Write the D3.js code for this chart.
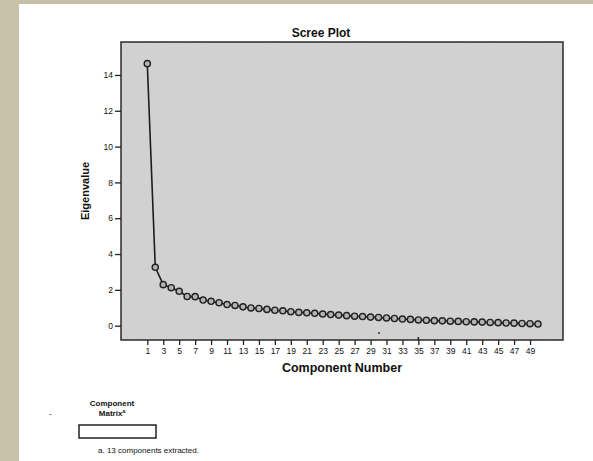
<html>
<head>
<style>
  body { margin: 0; background: #fff; }
  text { font-family: "Liberation Sans", Arial, sans-serif; fill: #111; }
</style>
</head>
<body>
<svg id="container" width="593" height="461"></svg>
<script src="https://cdn.jsdelivr.net/npm/d3@7"></script>
<script>
// eigenvalues, components 1..50
let components = d3.range(1, 51)
let eigenvalues = [
  14.63, 3.26, 2.29, 2.12, 1.92, 1.63, 1.62, 1.43, 1.36, 1.28,
  1.18, 1.13, 1.05, 0.99, 0.96, 0.91, 0.86, 0.83, 0.78, 0.74,
  0.72, 0.69, 0.65, 0.62, 0.59, 0.56, 0.53, 0.51, 0.48, 0.46,
  0.43, 0.40, 0.37, 0.35, 0.32, 0.30, 0.28, 0.27, 0.25, 0.24,
  0.22, 0.21, 0.20, 0.18, 0.17, 0.15, 0.14, 0.12, 0.11, 0.09
]
let xTicks = d3.range(1, 50, 2)
let yTicks = [0, 2, 4, 6, 8, 10, 12, 14]

let svg = d3.select("#container")

// slide decoration: beige strips at left and top
svg.append("rect").attr("x", 0).attr("y", 0).attr("width", 593).attr("height", 4).attr("fill", "#c6bfa8")
svg.append("rect").attr("x", 0).attr("y", 0).attr("width", 19).attr("height", 461).attr("fill", "#c9c2ab")

let plotLeft = 121, plotRight = 563, plotTop = 42, plotBottom = 340

let x = d3.scaleLinear().domain([1, 50]).range([147.3, 538])
let y = d3.scaleLinear().domain([-0.8, 15.84]).range([plotBottom, plotTop])

// speckled grey plot background
let defs = svg.append("defs")
let f = defs.append("filter").attr("id", "speckle")
f.append("feTurbulence").attr("type", "fractalNoise").attr("baseFrequency", 0.9).attr("numOctaves", 1).attr("result", "n")
f.append("feColorMatrix").attr("in", "n").attr("type", "matrix")
  .attr("values", "0 0 0 0 0.5  0 0 0 0 0.5  0 0 0 0 0.5  0 0 0 0.35 0").attr("result", "g")
f.append("feComposite").attr("in", "g").attr("in2", "SourceGraphic").attr("operator", "in")

let pw = plotRight - plotLeft, ph = plotBottom - plotTop
svg.append("rect")
  .attr("x", plotLeft).attr("y", plotTop).attr("width", pw).attr("height", ph)
  .attr("fill", "#d4d4d4")
svg.append("rect")
  .attr("x", plotLeft).attr("y", plotTop).attr("width", pw).attr("height", ph)
  .attr("fill", "#d4d4d4").attr("filter", "url(#speckle)").attr("opacity", 0.6)
svg.append("rect")
  .attr("x", plotLeft).attr("y", plotTop).attr("width", pw).attr("height", ph)
  .attr("fill", "none").attr("stroke", "#2a2a2a").attr("stroke-width", 1.5)

// y axis
let yAxis = svg.append("g").attr("transform", `translate(${plotLeft},0)`)
  .call(d3.axisLeft(y).tickValues(yTicks).tickSize(6).tickPadding(2))
yAxis.select(".domain").remove()
yAxis.selectAll("line").attr("stroke", "#222").attr("stroke-width", 1.3)
yAxis.selectAll("text").style("font-size", "8.5px").attr("fill", "#1a1a1a")

// x axis
let xAxis = svg.append("g").attr("transform", `translate(0,${plotBottom})`)
  .call(d3.axisBottom(x).tickValues(xTicks).tickSize(5).tickPadding(3))
xAxis.select(".domain").remove()
xAxis.selectAll("line").attr("stroke", "#222").attr("stroke-width", 1.3)
xAxis.selectAll("text").style("font-size", "8.5px").attr("fill", "#1a1a1a")

// line and markers
let pts = components.map((c, i) => [c, eigenvalues[i]])
svg.append("path")
  .attr("d", d3.line().x(d => x(d[0])).y(d => y(d[1]))(pts))
  .attr("fill", "none").attr("stroke", "#1e1e1e").attr("stroke-width", 1.6)

svg.selectAll("circle.pt").data(pts).enter().append("circle")
  .attr("class", "pt")
  .attr("cx", d => x(d[0])).attr("cy", d => y(d[1]))
  .attr("r", 3.1)
  .attr("fill", "#b4b4b4").attr("stroke", "#222").attr("stroke-width", 1.4)

// scan specks
svg.append("circle").attr("cx", 379).attr("cy", 333).attr("r", 1).attr("fill", "#333")
svg.append("line").attr("x1", x(35)).attr("x2", x(35)).attr("y1", 337).attr("y2", 340)
  .attr("stroke", "#222").attr("stroke-width", 1.5)

// titles
svg.append("text").attr("x", 321).attr("y", 37).attr("text-anchor", "middle")
  .style("font-size", "12px").style("font-weight", "bold").text("Scree Plot")
svg.append("text").attr("x", 342).attr("y", 372).attr("text-anchor", "middle")
  .style("font-size", "12.5px").style("font-weight", "bold").text("Component Number")
svg.append("text").attr("transform", `translate(89,191) rotate(-90)`).attr("text-anchor", "middle")
  .style("font-size", "11px").style("font-weight", "bold").text("Eigenvalue")

// component matrix footnote
svg.append("text").attr("x", 49).attr("y", 416).style("font-size", "8px").attr("fill", "#555").text("-")
svg.append("text").attr("x", 112).attr("y", 406).attr("text-anchor", "middle")
  .style("font-size", "8px").style("font-weight", "bold").text("Component")
let m = svg.append("text").attr("x", 112).attr("y", 416).attr("text-anchor", "middle")
  .style("font-size", "8px").style("font-weight", "bold")
m.append("tspan").text("Matrix")
m.append("tspan").attr("dy", -3).style("font-size", "5px").text("a")
svg.append("rect").attr("x", 79).attr("y", 425).attr("width", 77).attr("height", 13)
  .attr("fill", "#fff").attr("stroke", "#222").attr("stroke-width", 1.5)
svg.append("text").attr("x", 98).attr("y", 453).style("font-size", "8px").text("a. 13 components extracted.")
</script>
</body>
</html>
